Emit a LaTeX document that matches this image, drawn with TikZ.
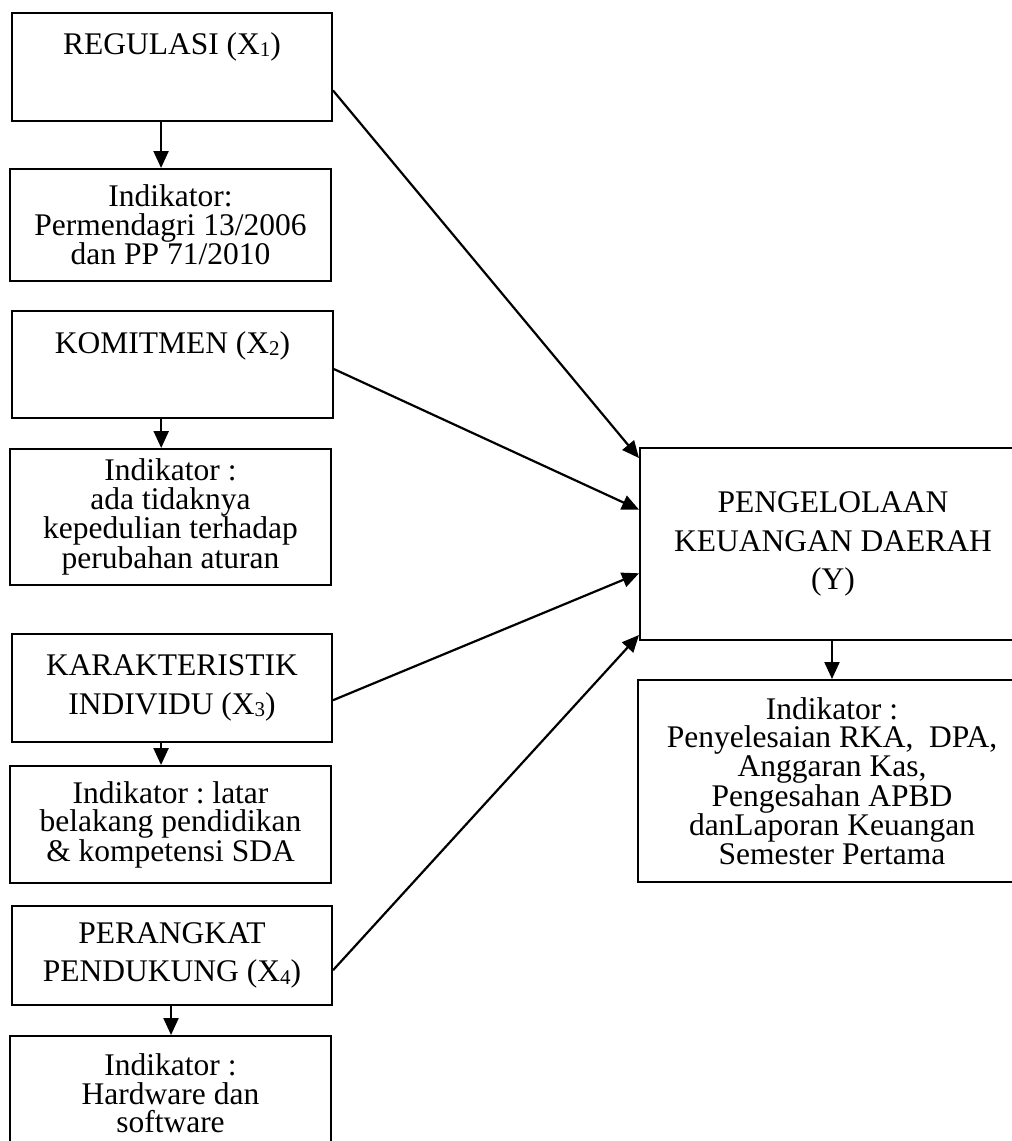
\documentclass[tikz,border=0pt]{standalone}
\usepackage{fontspec}
\setmainfont{Liberation Serif}
\usetikzlibrary{arrows.meta,calc}
\frenchspacing
\newcommand{\subx}[1]{\raisebox{-2.5pt}{\fontsize{21pt}{21pt}\selectfont #1}}
\tikzset{
  box/.style={draw, line width=2pt, rectangle, inner sep=0pt, anchor=north west, align=center},
  indbox/.style={box, font=\fontsize{31.5pt}{28.5pt}\selectfont},
  varbox/.style={box, font=\fontsize{31.5pt}{38.5pt}\selectfont},
  arr/.style={line width=2.2pt, -{Triangle[length=17pt,width=15pt]}}
}
\begin{document}
\begin{tikzpicture}[x=1pt,y=-1pt]
\path[use as bounding box, clip] (0,0) rectangle (1012,1141);
% left column
\node[varbox, minimum width=320pt, minimum height=108pt, text height=22pt, text depth=48pt] (x1) at (11,12) {REGULASI (X\subx{1})};
\node[indbox, minimum width=321pt, minimum height=112pt] (i1) at (9,168) {Indikator:\\Permendagri 13/2006\\dan PP 71/2010};
\node[varbox, minimum width=321pt, minimum height=107pt, text height=22pt, text depth=45pt] (x2) at (11,310) {KOMITMEN (X\subx{2})};
\node[indbox, minimum width=321pt, minimum height=136pt] (i2) at (9,448) {Indikator :\\ada tidaknya\\kepedulian terhadap\\perubahan aturan};
\node[varbox, minimum width=320pt, minimum height=108pt] (x3) at (11,633) {KARAKTERISTIK\\INDIVIDU (X\subx{3})};
\node[indbox, minimum width=321pt, minimum height=117pt] (i3) at (9,765) {Indikator : latar\\belakang pendidikan\\\& kompetensi SDA};
\node[varbox, minimum width=320pt, minimum height=99pt] (x4) at (11,905) {PERANGKAT\\PENDUKUNG (X\subx{4})};
\node[indbox, minimum width=321pt, minimum height=115pt] (i4) at (9,1035) {Indikator :\\Hardware dan\\software};
% right column
\node[varbox, minimum width=386pt, minimum height=192pt] (y) at (639,447) {PENGELOLAAN\\KEUANGAN DAERAH\\(Y)};
\node[indbox, minimum width=388pt, minimum height=202pt] (iy) at (637,679) {Indikator :\\Penyelesaian RKA,\ \ DPA,\\Anggaran Kas,\\Pengesahan APBD\\danLaporan Keuangan\\Semester Pertama};
% vertical arrows
\draw[arr] ($(x1.south west)!0.466!(x1.south east)$) coordinate (a1) -- (a1 |- i1.north);
\draw[arr] ($(x2.south west)!0.465!(x2.south east)$) coordinate (a2) -- (a2 |- i2.north);
\draw[arr] ($(x3.south west)!0.466!(x3.south east)$) coordinate (a3) -- (a3 |- i3.north);
\draw[arr] ($(x4.south west)!0.497!(x4.south east)$) coordinate (a4) -- (a4 |- i4.north);
\draw[arr] (y.south -| iy.north) -- (iy.north);
% diagonal arrows
\draw[arr] ($(x1.north east)!0.713!(x1.south east)$) -- ($(y.north west)!0.057!(y.south west)$);
\draw[arr] ($(x2.north east)!0.542!(x2.south east)$) -- ($(y.north west)!0.323!(y.south west)$);
\draw[arr] ($(x3.north east)!0.611!(x3.south east)$) -- ($(y.north west)!0.651!(y.south west)$);
\draw[arr] ($(x4.north east)!0.646!(x4.south east)$) -- ($(y.north west)!0.969!(y.south west)$);
\end{tikzpicture}
\end{document}
